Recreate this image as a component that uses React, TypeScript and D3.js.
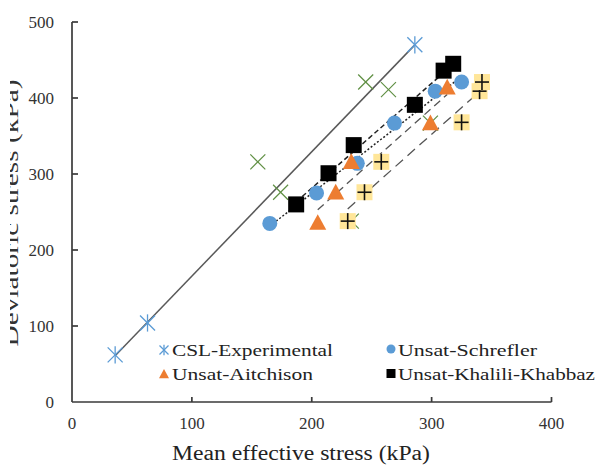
import React from "react";
import * as d3 from "d3";

// values (p' in kPa, q in kPa)
const cslP = [36, 63, 286];
const cslQ = [62, 104, 470];

const greenP = [155, 174, 233, 245, 264, 299];
const greenQ = [316, 276, 238, 421, 411, 367];

const schreflerP = [165, 204, 238, 269, 303, 325];
const schreflerQ = [235, 275, 314, 367, 409, 421];

const khaliliP = [187, 214, 235, 286, 310, 318];
const khaliliQ = [260, 301, 338, 391, 436, 445];

const aitchisonP = [205, 220, 233, 299, 313];
const aitchisonQ = [236, 276, 316, 367, 414];

const yellowP = [230, 244, 258, 325, 340, 342];
const yellowQ = [238, 276, 316, 368, 409, 421];

const xTicks = [0, 100, 200, 300, 400];
const yTicks = [0, 100, 200, 300, 400, 500];

const W = 603;
const H = 470;
const serif = '"Liberation Serif", "DejaVu Serif", serif';

const x = d3.scaleLinear().domain([0, 400]).range([72, 551.5]);
const y = d3.scaleLinear().domain([0, 500]).range([402, 22]);

function fit(ps: number[], qs: number[]) {
  const mx = d3.mean(ps)!;
  const my = d3.mean(qs)!;
  let num = 0;
  let den = 0;
  ps.forEach((p, i) => {
    num += (p - mx) * (qs[i] - my);
    den += (p - mx) * (p - mx);
  });
  const b = num / den;
  const a = my - b * mx;
  const [p0, p1] = d3.extent(ps) as [number, number];
  return [[p0, a + b * p0], [p1, a + b * p1]];
}

const lineGen = d3.line<number[]>().x(d => x(d[0])).y(d => y(d[1]));

const Asterisk = ({ cx, cy, s, color }: any) => {
  const h = s / 2;
  return (
    <g stroke={color} strokeWidth={1.3}>
      <line x1={cx - h} y1={cy - h} x2={cx + h} y2={cy + h} />
      <line x1={cx - h} y1={cy + h} x2={cx + h} y2={cy - h} />
      <line x1={cx} y1={cy - h * 1.15} x2={cx} y2={cy + h * 1.15} />
    </g>
  );
};

const Cross = ({ cx, cy, s, color }: any) => {
  const h = s / 2;
  return (
    <g stroke={color} strokeWidth={1.2}>
      <line x1={cx - h} y1={cy - h} x2={cx + h} y2={cy + h} />
      <line x1={cx - h} y1={cy + h} x2={cx + h} y2={cy - h} />
    </g>
  );
};

const Tri = ({ cx, cy, s, color }: any) => {
  const h = s / 2;
  return <path d={`M${cx},${cy - h}L${cx + h},${cy + h * 0.85}L${cx - h},${cy + h * 0.85}Z`} fill={color} />;
};

const YellowPlus = ({ cx, cy }: any) => (
  <g>
    <rect x={cx - 8} y={cy - 8} width={16} height={16} fill="#ffe699" />
    <g stroke="#111" strokeWidth={1.6}>
      <line x1={cx - 7} y1={cy} x2={cx + 7} y2={cy} />
      <line x1={cx} y1={cy - 8} x2={cx} y2={cy + 8} />
    </g>
  </g>
);

const T = (props: any) => <text fontFamily={serif} {...props} />;

export default function App() {
  const regs = [
    { pts: fit(cslP, cslQ), dash: "none", color: "#595959", w: 1.5 },
    { pts: fit(schreflerP, schreflerQ), dash: "2,2", color: "#222", w: 1.5 },
    { pts: fit(khaliliP, khaliliQ), dash: "5,3", color: "#222", w: 1.5 },
    { pts: fit(aitchisonP, aitchisonQ), dash: "8,5", color: "#555", w: 1.3 },
    { pts: fit(yellowP, yellowQ), dash: "10,6", color: "#555", w: 1.3 },
  ];

  return (
    <svg width={W} height={H} style={{ position: "absolute", left: 0, top: 0, background: "#fff" }}>
      <defs>
        <clipPath id="ytitle">
          <rect x={10} y={0} width={60} height={H} />
        </clipPath>
      </defs>

      {/* axes */}
      <g stroke="#3a3a3a" strokeWidth={1.7} fill="none">
        <line x1={x(0)} y1={y(0)} x2={x(400)} y2={y(0)} />
        <line x1={x(0)} y1={y(0)} x2={x(0)} y2={y(500)} />
        {xTicks.slice(1).map(t => (
          <line key={t} x1={x(t)} x2={x(t)} y1={y(0)} y2={y(0) - 5} />
        ))}
        {yTicks.slice(1).map(t => (
          <line key={t} x1={x(0)} x2={x(0) + 6} y1={y(t)} y2={y(t)} />
        ))}
      </g>
      <g fontSize={17} fill="#333">
        {xTicks.map(t => (
          <T key={t} x={x(t)} y={429} textAnchor="middle">{t}</T>
        ))}
        {yTicks.map(t => (
          <T key={t} x={54} y={y(t) + 6} textAnchor="end">{t}</T>
        ))}
      </g>
      <T x={301} y={460} textAnchor="middle" fontSize={20} fill="#222" textLength={258}
        lengthAdjust="spacingAndGlyphs">Mean effective stress (kPa)</T>
      <g clipPath="url(#ytitle)">
        <T transform="translate(18,213) rotate(-90)" textAnchor="middle" fontSize={20} fill="#333"
          textLength={267} lengthAdjust="spacingAndGlyphs">Deviatoric stress (kPa)</T>
      </g>

      {/* trend lines */}
      {regs.map((r, i) => (
        <path key={i} d={lineGen(r.pts as number[][])!} fill="none" stroke={r.color}
          strokeWidth={r.w} strokeDasharray={r.dash} />
      ))}

      {/* markers */}
      {greenP.map((p, i) => (
        <Cross key={"g" + i} cx={x(p)} cy={y(greenQ[i])} s={15} color="#5f8f43" />
      ))}
      {yellowP.map((p, i) => (
        <YellowPlus key={"y" + i} cx={x(p)} cy={y(yellowQ[i])} />
      ))}
      {khaliliP.map((p, i) => (
        <rect key={"k" + i} x={x(p) - 8} y={y(khaliliQ[i]) - 8} width={16} height={16} fill="#000" />
      ))}
      {schreflerP.map((p, i) => (
        <circle key={"s" + i} cx={x(p)} cy={y(schreflerQ[i])} r={7.5} fill="#5b9bd5" />
      ))}
      {aitchisonP.map((p, i) => (
        <Tri key={"a" + i} cx={x(p)} cy={y(aitchisonQ[i])} s={17} color="#ed7d31" />
      ))}
      {cslP.map((p, i) => (
        <Asterisk key={"c" + i} cx={x(p)} cy={y(cslQ[i])} s={15} color="#5b9bd5" />
      ))}

      {/* legend */}
      <g fontSize={17} fill="#222">
        <Asterisk cx={164} cy={350} s={9} color="#5b9bd5" />
        <T x={172} y={356} textLength={161} lengthAdjust="spacingAndGlyphs">CSL-Experimental</T>
        <circle cx={391} cy={349} r={4.5} fill="#5b9bd5" />
        <T x={398} y={356} textLength={139} lengthAdjust="spacingAndGlyphs">Unsat-Schrefler</T>
        <Tri cx={164} cy={374} s={10} color="#ed7d31" />
        <T x={172} y={380} textLength={141} lengthAdjust="spacingAndGlyphs">Unsat-Aitchison</T>
        <rect x={386.5} y={369} width={9} height={9} fill="#000" />
        <T x={398} y={380} textLength={197} lengthAdjust="spacingAndGlyphs">Unsat-Khalili-Khabbaz</T>
      </g>
    </svg>
  );
}
